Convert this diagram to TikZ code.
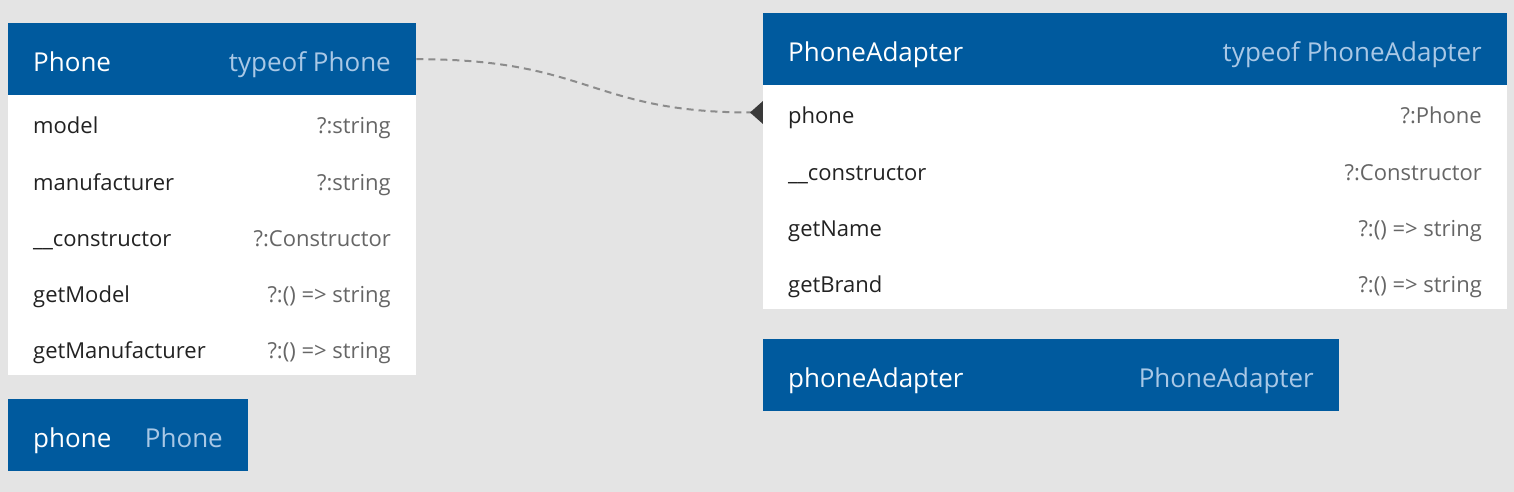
\documentclass[tikz,border=0pt]{standalone}
\usepackage{fontspec}
\setmainfont{Open Sans}
\usetikzlibrary{arrows.meta,backgrounds}
\definecolor{hblue}{HTML}{005A9E}
\definecolor{hlight}{HTML}{A9C8E6}
\definecolor{canvas}{HTML}{E4E4E4}
\definecolor{ftext}{HTML}{222222}
\definecolor{ttext}{HTML}{666666}
\definecolor{link}{HTML}{8C8C8C}
\definecolor{tip}{HTML}{3A3A3A}
\tikzset{
  head/.style={fill=hblue, minimum height=72, inner sep=0, anchor=north west},
  panel/.style={fill=white, inner sep=0, anchor=north west},
  title/.style={text=white, font=\fontsize{26}{30}\selectfont, inner sep=0},
  kind/.style={text=hlight, font=\fontsize{26}{30}\selectfont, inner sep=0},
  field/.style={text=ftext, font=\fontsize{22}{26}\selectfont, inner sep=0, anchor=base west},
  ftype/.style={text=ttext, font=\fontsize{22}{26}\selectfont, inner sep=0, anchor=base east},
}
\begin{document}
\begin{tikzpicture}[x=1pt,y=-1pt]
\useasboundingbox (0,0) rectangle (1514,492);

% Phone class
\node[head, minimum width=408] (phonehead) at (8,23) {};
\node[panel, minimum width=408, minimum height=280] (phonebody) at (8,95) {};
\node[title, anchor=base west] (phonename) at (33,71.7) {Phone};
\node[kind, anchor=base east] (phonekind) at (391,71.7) {typeof Phone};
\foreach \f/\t [count=\i] in {model/?:string, manufacturer/?:string,
    \_\_constructor/?:Constructor, getModel/?:() => string,
    getManufacturer/?:() => string} {
  \node[field] (pf\i) at (33,78+56*\i) {\f};
  \node[ftype] (pt\i) at (391,78+56*\i) {\t};
}

% phone variable
\node[head, minimum width=240] (phonevar) at (8,399) {};
\node[title, anchor=base west] (phonevarname) at (33,447.7) {phone};
\node[kind, anchor=base east] (phonevarkind) at (223,447.7) {Phone};

% PhoneAdapter class
\node[head, minimum width=744] (adapterhead) at (763,13) {};
\node[panel, minimum width=744, minimum height=224] (adapterbody) at (763,85) {};
\node[title, anchor=base west] (adaptername) at (788,61.7) {PhoneAdapter};
\node[kind, anchor=base east] (adapterkind) at (1482,61.7) {typeof PhoneAdapter};
\foreach \f/\t [count=\i] in {phone/?:Phone, \_\_constructor/?:Constructor,
    getName/?:() => string, getBrand/?:() => string} {
  \node[field] (af\i) at (788,68+56*\i) {\f};
  \node[ftype] (at\i) at (1482,68+56*\i) {\t};
}
\coordinate (adapterport) at ([xshift=13]adapterbody.north west |- 0,112.5);

% phoneAdapter variable
\node[head, minimum width=576] (adaptervar) at (763,339) {};
\node[title, anchor=base west] (adaptervarname) at (788,387.7) {phoneAdapter};
\node[kind, anchor=base east] (adaptervarkind) at (1314,387.7) {PhoneAdapter};

\begin{pgfonlayer}{background}
\fill[canvas] (0,0) rectangle (1514,492);
% member link
\draw[link, line width=2, dash pattern=on 7 off 5,
  -{Diamond[length=26, width=23, fill=tip, color=tip]}]
  (phonehead.east) .. controls (590,59) and (590,112.5) .. (adapterport);
\end{pgfonlayer}
\end{tikzpicture}
\end{document}
